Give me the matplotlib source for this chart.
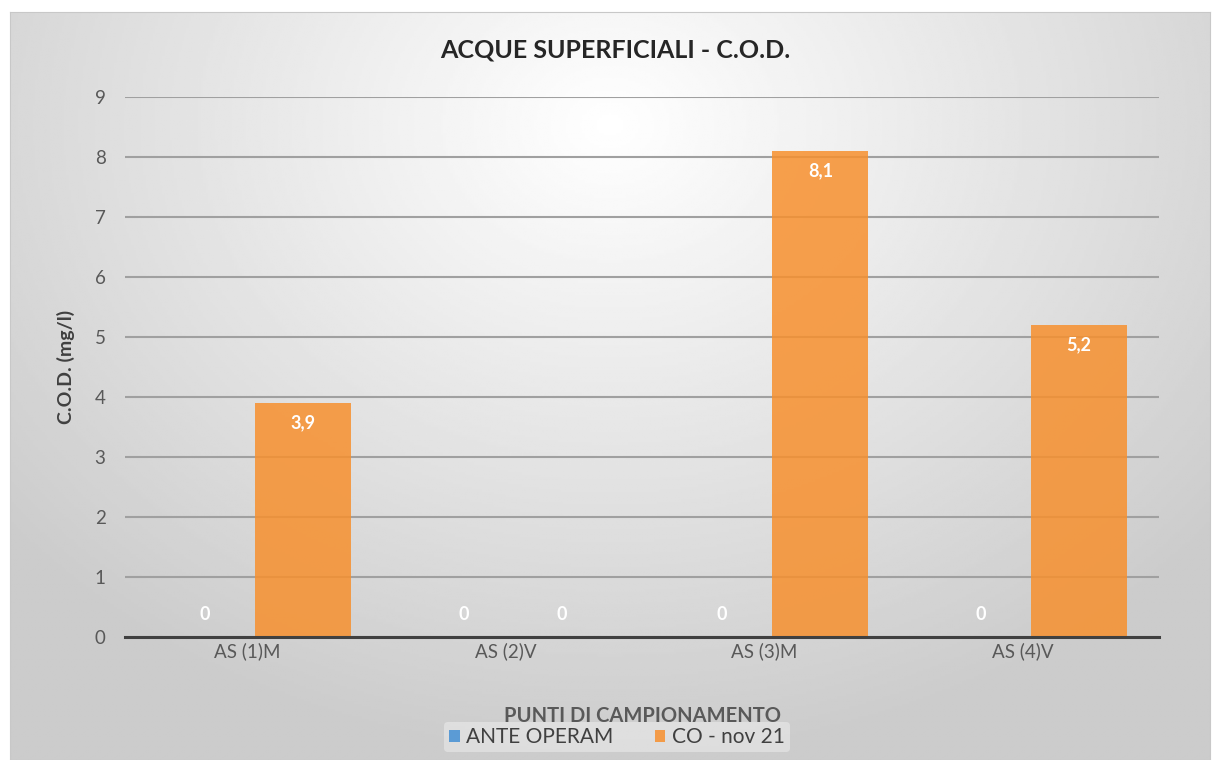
import numpy as np
import matplotlib.pyplot as plt
import matplotlib.transforms as mtransforms

# --- dati ---
categorie = ["AS (1)M", "AS (2)V", "AS (3)M", "AS (4)V"]
ante_operam = [0, 0, 0, 0]
co_nov21 = [3.9, 0, 8.1, 5.2]
serie_nomi = ["ANTE OPERAM", "CO - nov 21"]

plt.rcParams['font.family'] = ['Lato', 'DejaVu Sans']

fig = plt.figure(figsize=(12.14, 7.6), dpi=100)
W, H = 1214, 760

# --- sfondo sfumato ---
bg = fig.add_axes([10 / W, 0, 1200 / W, (H - 12) / H])
yy, xx = np.mgrid[-1:1:300j, -1:1:500j]
r = np.sqrt((xx / 1.0) ** 2 + ((yy + 0.7) / 1.3) ** 2)
grad = 1.0 - 0.2 * np.clip(r, 0, 1.3) / 1.3
bg.imshow(grad, cmap='gray', vmin=0, vmax=1, aspect='auto', extent=[0, 1, 0, 1])
bg.set_xticks([])
bg.set_yticks([])
for s in bg.spines.values():
    s.set_color('#c8c8c8')
bg.set_zorder(0)

# --- grafico ---
ax = fig.add_axes([125 / W, (H - 637) / H, (1159 - 125) / W, 540 / H])
ax.set_zorder(1)
ax.patch.set_alpha(0)

x = np.arange(len(categorie))
w = 0.372
b1 = ax.bar(x - 0.19, ante_operam, w, color='#5b9bd5', label=serie_nomi[0], zorder=2)
b2 = ax.bar(x + 0.19, co_nov21, w, color='#f7902e', alpha=0.85, label=serie_nomi[1], zorder=2)

for bars in (b1, b2):
    for b in bars:
        v = b.get_height()
        lab = f"{v:g}".replace('.', ',')
        if v > 0:
            ax.annotate(lab, (b.get_x() + b.get_width() / 2, v), xytext=(0, -8),
                        textcoords='offset points', ha='center', va='top',
                        color='white', fontsize=13, fontweight='bold')
        else:
            ax.annotate(lab, (b.get_x() + b.get_width() / 2, v), xytext=(0, 16),
                        textcoords='offset points', ha='center', va='center',
                        color='white', fontsize=13, fontweight='bold')

ax.set_ylim(0, 9)
ax.set_xlim(-0.5, 3.5)
ax.set_yticks(range(0, 10))
ax.yaxis.grid(True, color='#a0a0a0', linewidth=1.5, zorder=1)
ax.set_axisbelow(True)
for s in ['top', 'right', 'left']:
    ax.spines[s].set_visible(False)
ax.spines['bottom'].set_color('#404040')
ax.spines['bottom'].set_linewidth(2.2)
ax.tick_params(axis='both', length=0, colors='#595959', labelsize=13.5)
ax.tick_params(axis='y', pad=14)
ax.tick_params(axis='x', pad=4)
ax.set_xticks(x)
ax.set_xticklabels(categorie)
sposta = mtransforms.ScaledTranslation(-7 / 100, 0, fig.dpi_scale_trans)
for t in ax.get_xticklabels():
    t.set_transform(t.get_transform() + sposta)

ax.set_ylabel("C.O.D. (mg/l)", fontsize=14, fontweight='bold', color='#404040', labelpad=14)
ax.set_xlabel("PUNTI DI CAMPIONAMENTO", fontsize=14.5, fontweight='bold', color='#595959')
ax.xaxis.set_label_coords(0.5, -(716 - 637) / 540)
ax.xaxis.label.set_va('center')

fig.text(615 / W, 1 - 50 / H, "ACQUE SUPERFICIALI - C.O.D.", ha='center', va='center',
         fontsize=18, fontweight='bold', color='#262626')

leg = fig.legend(loc='center', bbox_to_anchor=(617 / W, 1 - 737 / H), ncol=2,
                 frameon=True, fontsize=15, handlelength=0.5, handleheight=0.5,
                 handletextpad=0.3, columnspacing=2.0, borderpad=0.25)
leg.get_frame().set_facecolor('white')
leg.get_frame().set_alpha(0.35)
leg.get_frame().set_edgecolor('none')
for t in leg.get_texts():
    t.set_color('#404040')

fig.savefig("out.png", dpi=100)
